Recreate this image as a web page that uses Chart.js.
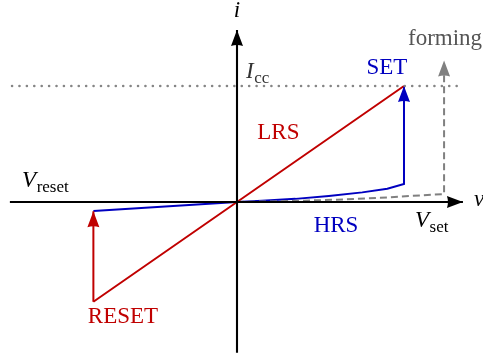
<!DOCTYPE html>
<html>
<head>
<meta charset="utf-8">
<script src="https://cdn.jsdelivr.net/npm/chart.js@4/dist/chart.umd.min.js"></script>
<style>
  html, body { margin: 0; padding: 0; background: #fff; }
  #wrap { width: 483px; height: 354px; }
</style>
</head>
<body>
<div id="wrap"><canvas id="ivChart"></canvas></div>
<script>
// Bipolar resistive switching I-V loop (normalised: Vset = 1, Icc = 1)
const vReset = -0.86;
const vSet = 1.0;
const vForm = 1.24;
const iCc = 1.0;

// LRS branch: RESET point -> origin -> SET point
const lrsV = [vReset, 0, vSet];
const lrsI = [-0.86, 0, iCc];

// RESET jump (arrow up from LRS to HRS)
const resetV = [vReset, vReset];
const resetI = [-0.86, -0.08];

// HRS branch, negative side then positive side, ending in the SET jump
const hrsV = [vReset, 0, 0.15, 0.35, 0.55, 0.75, 0.9, vSet, vSet];
const hrsI = [-0.078, 0, 0.010, 0.027, 0.052, 0.083, 0.115, 0.155, iCc];

// Forming sweep of the pristine device
const formV = [0, 0.3, 0.6, 0.9, vForm, vForm];
const formI = [0, 0.008, 0.02, 0.04, 0.069, 1.22];

// Compliance current level and axis extents
const ccV = [-1.347, 1.335];
const axisV = [-1.36, 1.353];
const axisI = [-1.30, 1.483];

const red = '#c00000';
const blue = '#0000c0';
const gray = '#808080';

function pts(xs, ys) {
    return xs.map((x, k) => ({ x: x, y: ys[k] }));
}

function lineSet(data, color, extra) {
    return Object.assign({
        data: data,
        showLine: true,
        borderColor: color,
        borderWidth: 2,
        pointRadius: 0,
        fill: false,
        tension: 0
    }, extra || {});
}

const datasets = [
    lineSet(pts(ccV, [iCc, iCc]), '#858585', { borderDash: [0.01, 7.4], borderWidth: 2.6, borderCapStyle: 'round' }),
    lineSet(pts(axisV, [0, 0]), '#000', { borderWidth: 2.1, arrow: true }),
    lineSet(pts([0, 0], axisI), '#000', { borderWidth: 2.1, arrow: true }),
    lineSet(pts(formV, formI), gray, { borderDash: [7, 4], arrow: true }),
    lineSet(pts(lrsV, lrsI), red),
    lineSet(pts(resetV, resetI), red, { arrow: true }),
    lineSet(pts(hrsV, hrsI), blue, { arrow: true })
];

// Text labels: [text, subscript, x, y, colour, align, italic]
const labels = [
    ['i', '', 0, 1.595, '#000', 'center', true],
    ['I', 'cc', 0.054, 1.069, '#333', 'left', true],
    ['forming', '', 1.246, 1.353, '#555', 'center', false],
    ['SET', '', 0.898, 1.103, blue, 'center', false],
    ['LRS', '', 0.248, 0.543, red, 'center', false],
    ['HRS', '', 0.593, -0.259, blue, 'center', false],
    ['V', 'set', 1.066, -0.216, '#000', 'left', true],
    ['V', 'reset', -1.287, 0.129, '#000', 'left', true],
    ['v', '', 1.419, -0.034, '#000', 'left', true],
    ['RESET', '', -0.683, -1.043, red, 'center', false]
];

const serif = '"Liberation Serif", "DejaVu Serif", serif';

// Arrowheads at the end of flagged datasets, pointing along the last segment
const arrowPlugin = {
    id: 'arrowHeads',
    afterDatasetsDraw(chart) {
        const ctx = chart.ctx;
        const xs = chart.scales.x, ys = chart.scales.y;
        chart.data.datasets.forEach(ds => {
            if (!ds.arrow) return;
            const n = ds.data.length;
            const a = ds.data[n - 2], b = ds.data[n - 1];
            const x0 = xs.getPixelForValue(a.x), y0 = ys.getPixelForValue(a.y);
            const x1 = xs.getPixelForValue(b.x), y1 = ys.getPixelForValue(b.y);
            const ang = Math.atan2(y1 - y0, x1 - x0);
            const len = 16, half = 6;
            ctx.save();
            ctx.translate(x1, y1);
            ctx.rotate(ang);
            ctx.fillStyle = ds.borderColor;
            ctx.beginPath();
            ctx.moveTo(0, 0);
            ctx.lineTo(-len, -half);
            ctx.quadraticCurveTo(-len + 2, 0, -len, half);
            ctx.closePath();
            ctx.fill();
            ctx.restore();
        });
    }
};

const labelPlugin = {
    id: 'textLabels',
    afterDraw(chart) {
        const ctx = chart.ctx;
        const xs = chart.scales.x, ys = chart.scales.y;
        ctx.save();
        ctx.textBaseline = 'alphabetic';
        labels.forEach(([text, sub, x, y, color, align, italic]) => {
            const px = xs.getPixelForValue(x);
            const py = ys.getPixelForValue(y);
            const mainFont = (italic ? 'italic 23px ' : '23px ') + serif;
            const subFont = '17px ' + serif;
            ctx.font = mainFont;
            const w1 = ctx.measureText(text).width;
            ctx.font = subFont;
            const w2 = sub ? ctx.measureText(sub).width : 0;
            let left = px;
            if (align === 'center') left = px - (w1 + w2) / 2;
            ctx.fillStyle = color;
            ctx.textAlign = 'left';
            ctx.font = mainFont;
            ctx.fillText(text, left, py);
            if (sub) {
                ctx.font = subFont;
                ctx.fillText(sub, left + w1 + 0.5, py + 5);
            }
        });
        ctx.restore();
    }
};

new Chart(document.getElementById('ivChart'), {
    type: 'scatter',
    data: { datasets: datasets },
    options: {
        responsive: true,
        maintainAspectRatio: false,
        animation: false,
        layout: { padding: 0 },
        plugins: {
            legend: { display: false },
            tooltip: { enabled: false }
        },
        scales: {
            x: { type: 'linear', display: false, min: -1.4192, max: 1.4731 },
            y: { type: 'linear', display: false, min: -1.3103, max: 1.7414 }
        }
    },
    plugins: [arrowPlugin, labelPlugin]
});
</script>
</body>
</html>
